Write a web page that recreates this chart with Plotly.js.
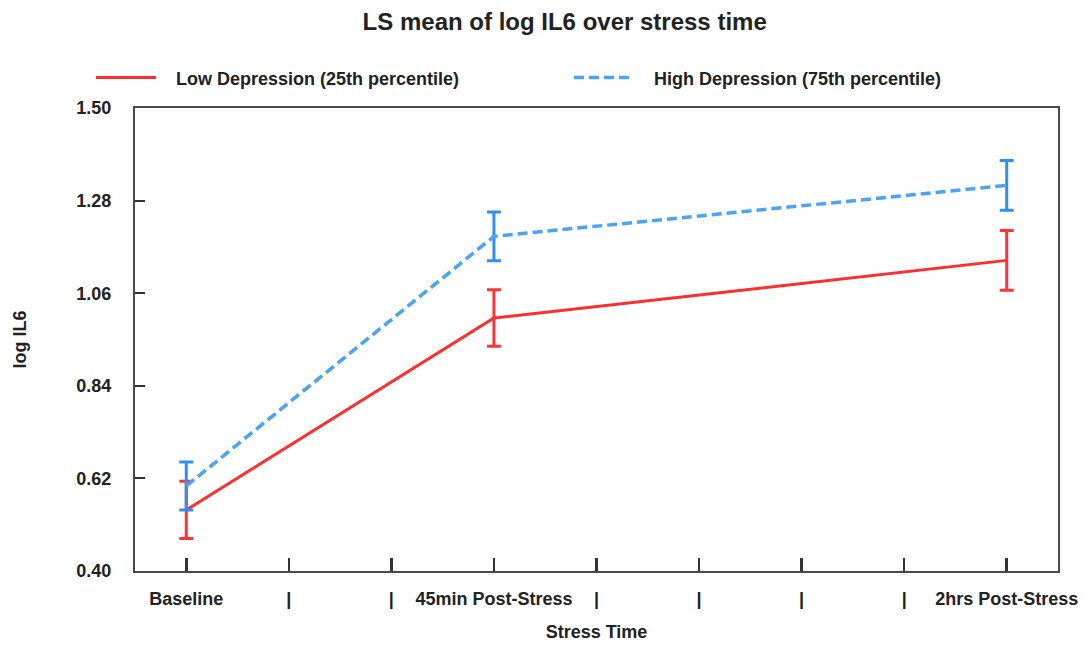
<!DOCTYPE html>
<html>
<head>
<meta charset="utf-8">
<script src="https://cdn.plot.ly/plotly-3.0.1.min.js"></script>
<style>html,body{margin:0;padding:0;background:#fff;}#chart{width:1088px;height:645px;}</style>
</head>
<body>
<div id="chart"></div>
<script>
// Tick labels of the stress-time axis (9 positions)
var tickLabels = ["Baseline", "|", "|", "45min Post-Stress", "|", "|", "|", "|", "2hrs Post-Stress"];
// Positions of the measured time points on that axis
var timePoints = [0, 3, 8];
// Low Depression (25th percentile)
var lowMean = [0.545, 1.001, 1.138];
var lowErr = [0.068, 0.067, 0.071];
// High Depression (75th percentile)
var highMean = [0.602, 1.195, 1.316];
var highErr = [0.057, 0.058, 0.059];
// Y axis ticks
var yTicks = [0.40, 0.62, 0.84, 1.06, 1.28, 1.50];
var yTickText = ["0.40", "0.62", "0.84", "1.06", "1.28", "1.50"];
// Series names
var seriesNames = ["Low Depression (25th percentile)", "High Depression (75th percentile)"];

var FONT = "Liberation Sans, Arial, sans-serif";
var PAD = "\u00a0\u00a0\u00a0";
var tickPos = tickLabels.map(function (_, i) { return i; });

var traces = [
  {
    x: timePoints, y: lowMean, type: "scatter", mode: "lines",
    name: PAD + seriesNames[0],
    line: {color: "#ff2e2e", width: 3},
    error_y: {type: "data", array: lowErr, visible: true, color: "#ff3535", thickness: 3, width: 7}
  },
  {
    x: timePoints, y: highMean, type: "scatter", mode: "lines",
    name: PAD + seriesNames[1],
    line: {color: "#4aa3f7", width: 3.5, dash: "10px,5px"},
    error_y: {type: "data", array: highErr, visible: true, color: "#2f90f2", thickness: 3, width: 7}
  }
];

var layout = {
  width: 1088, height: 645,
  paper_bgcolor: "#ffffff", plot_bgcolor: "#ffffff",
  margin: {l: 135, r: 30, t: 108, b: 74},
  font: {family: FONT, size: 18, color: "#222222", weight: "bold"},
  title: {
    text: "LS mean of log IL6 over stress time",
    font: {family: FONT, size: 24, color: "#222222", weight: "bold"},
    x: 0.519, xanchor: "center", y: 0.966, yanchor: "middle"
  },
  showlegend: true,
  legend: {
    orientation: "h", x: -0.0477, xanchor: "left", y: 1.065, yanchor: "middle",
    font: {family: FONT, size: 18, color: "#222222", weight: "bold"},
    itemwidth: 60, entrywidth: 403, entrywidthmode: "pixels",
    bgcolor: "rgba(0,0,0,0)", traceorder: "normal"
  },
  xaxis: {
    type: "linear", range: [-0.5, 8.5],
    tickmode: "array", tickvals: tickPos, ticktext: tickLabels, tickangle: 0,
    ticks: "inside", ticklen: 13, tickwidth: 2.5, tickcolor: "#333333",
    showline: true, linecolor: "#4a4a4a", linewidth: 2, mirror: true,
    showgrid: false, zeroline: false, ticklabelstandoff: 10,
    title: {text: "Stress Time", font: {family: FONT, size: 18, color: "#222222", weight: "bold"}, standoff: 18}
  },
  yaxis: {
    range: [0.40, 1.50],
    tickmode: "array", tickvals: yTicks, ticktext: yTickText,
    ticks: "inside", ticklen: 10, tickwidth: 2, tickcolor: "#333333",
    showline: true, linecolor: "#4a4a4a", linewidth: 2, mirror: true,
    showgrid: false, zeroline: false, ticklabelstandoff: 18,
    title: {text: "log IL6", font: {family: FONT, size: 18, color: "#222222", weight: "bold"}, standoff: 45}
  }
};

Plotly.newPlot("chart", traces, layout, {displayModeBar: false, staticPlot: true});
</script>
</body>
</html>
